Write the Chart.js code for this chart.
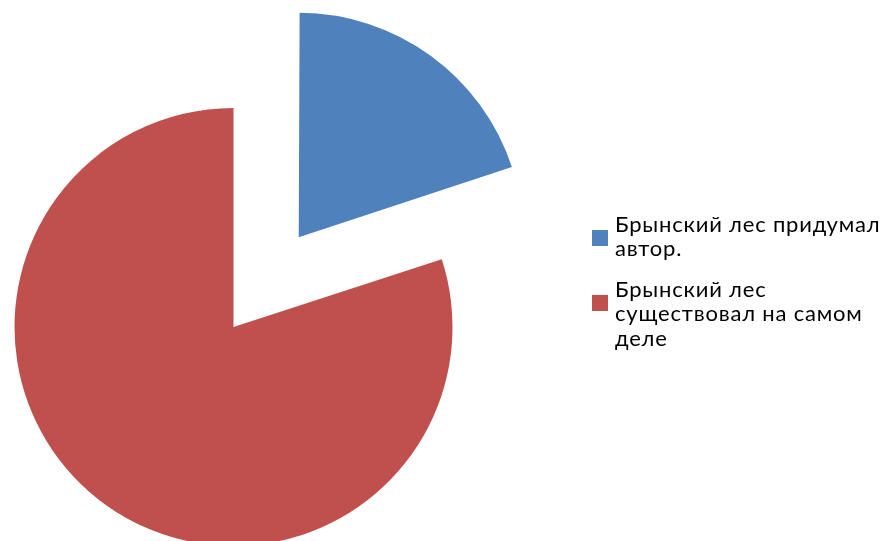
<!DOCTYPE html>
<html>
<head>
<meta charset="utf-8">
<script src="https://cdn.jsdelivr.net/npm/chart.js@4.4.1/dist/chart.umd.min.js"></script>
<style>
    html, body { margin: 0; padding: 0; background: #fff; overflow: hidden; width: 888px; height: 541px; }
    #wrap { position: absolute; left: 0; top: 0; width: 888px; height: 654px; }
    #legend { position: absolute; left: 592px; top: 212px; font-family: Lato, "Noto Sans", sans-serif; font-size: 22px; letter-spacing: 0.8px; line-height: 24.4px; color: #000; }
    .item { position: relative; padding-left: 23px; width: 274px; margin-bottom: 16px; }
    .box { position: absolute; left: 0; width: 16px; height: 16px; }
</style>
</head>
<body>
<div id="wrap"><canvas id="chart"></canvas></div>
<div id="legend"></div>
<script>
"use strict";

var labels = ["Брынский лес придумал автор.", "Брынский лес существовал на самом деле"];
var values = [20, 80];
var colors = ["#4f81bd", "#c0504d"];
var offsets = [444, 0];

var createChart = function() {
    var ctx = document.getElementById("chart").getContext("2d");
    var chart = new Chart(ctx, {
        type: "pie",
        data: {
            labels: labels,
            datasets: [{
                data: values,
                backgroundColor: colors,
                borderWidth: 0,
                offset: offsets,
                clip: false
            }]
        },
        options: {
            responsive: true,
            maintainAspectRatio: false,
            animation: false,
            radius: 219,
            layout: { padding: { left: 0, right: 421, top: 0, bottom: 0 } },
            plugins: {
                legend: { display: false },
                tooltip: { enabled: false }
            },
            events: []
        }
    });
    return chart;
};

var buildLegend = function(chart) {
    var el = document.getElementById("legend");
    chart.data.labels.forEach(function(text, i) {
        var item = document.createElement("div");
        item.className = "item";
        var box = document.createElement("span");
        box.className = "box";
        box.style.background = chart.data.datasets[0].backgroundColor[i];
        box.style.top = "18px";
        item.appendChild(box);
        item.appendChild(document.createTextNode(text));
        el.appendChild(item);
    });
};

var chart = createChart();
buildLegend(chart);
</script>
</body>
</html>
